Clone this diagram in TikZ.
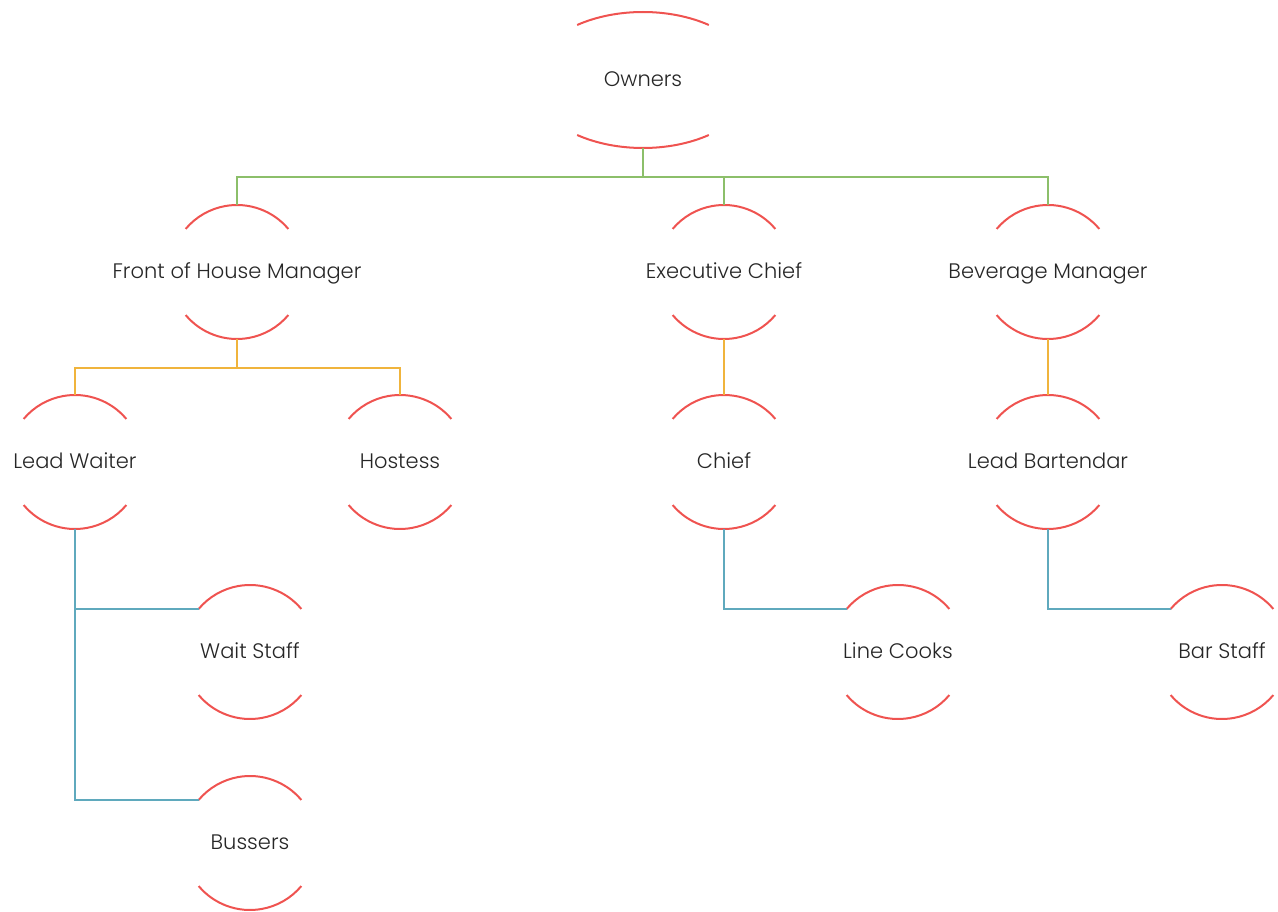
\documentclass[tikz,border=0pt]{standalone}
\usepackage{fontspec}
\setmainfont{Poppins}[UprightFont=* Light]
\usetikzlibrary{positioning}
\definecolor{arcred}{HTML}{EF5350}
\definecolor{linkgreen}{HTML}{8CBF6A}
\definecolor{linkorange}{HTML}{F0B43C}
\definecolor{linkblue}{HTML}{5FA9BD}
\begin{document}
\begin{tikzpicture}[x=1pt,y=1pt,
  role/.style={font=\fontsize{21}{24}\selectfont, text=black!85, text height=1.3em, text depth=0pt},
  arcline/.style={draw=arcred, line width=2pt},
  link/.style={line width=2pt}]

% GLOBAL SETTINGS
\newcommand{\rad}{67pt}
\newcommand{\roleshape}[1]{%
  \draw[arcline] ([shift={(40:\rad)}]#1.center) arc[start angle=40,end angle=140,radius=\rad];
  \draw[arcline] ([shift={(220:\rad)}]#1.center) arc[start angle=220,end angle=320,radius=\rad];
  \path (#1.center) +(0,\rad) coordinate (#1-t) +(0,-\rad) coordinate (#1-b) +(140:\rad) coordinate (#1-tl);
}
\useasboundingbox (0,0) rectangle (1278,-912);

% NODES
\node[role] (own) at (643,-80) {Owners};
\node[role] (foh) at (237,-272) {Front of House Manager};
\node[role] (exec) at (724,-272) {Executive Chief};
\node[role] (bev) at (1048,-272) {Beverage Manager};
\node[role] (lw) at (75,-462) {Lead Waiter};
\node[role] (host) at (400,-462) {Hostess};
\node[role] (chief) at (724,-462) {Chief};
\node[role] (lbar) at (1048,-462) {Lead Bartendar};
\node[role] (wait) at (250,-652) {Wait Staff};
\node[role] (bus) at (250,-843) {Bussers};
\node[role] (cook) at (898,-652) {Line Cooks};
\node[role] (bar) at (1222,-652) {Bar Staff};

% ARCS
\draw[arcline] ([shift={(54:112pt and 68pt)}]own.center) arc[start angle=54,end angle=126,x radius=112pt,y radius=68pt];
\draw[arcline] ([shift={(234:112pt and 68pt)}]own.center) arc[start angle=234,end angle=306,x radius=112pt,y radius=68pt];
\path (own.center) +(0,-68pt) coordinate (own-b);
\foreach \n in {foh,exec,bev,lw,host,chief,lbar,wait,bus,cook,bar} {
  \roleshape{\n}
}

% EDGES
\draw[link,linkgreen] (own-b) -- ++(0,-29) coordinate (gj);
\draw[link,linkgreen] (foh-t) |- (gj) -| (bev-t);
\draw[link,linkgreen] (exec-t) -- (exec-t |- gj);
%
\draw[link,linkorange] (foh-b) -- ++(0,-29) coordinate (oj);
\draw[link,linkorange] (lw-t) |- (oj) -| (host-t);
\draw[link,linkorange] (exec-b) -- (chief-t);
\draw[link,linkorange] (bev-b) -- (lbar-t);
%
\draw[link,linkblue] (lw-b) |- (wait-tl);
\draw[link,linkblue] (lw-b) |- (bus-tl);
\draw[link,linkblue] (chief-b) |- (cook-tl);
\draw[link,linkblue] (lbar-b) |- (bar-tl);

\end{tikzpicture}
\end{document}
